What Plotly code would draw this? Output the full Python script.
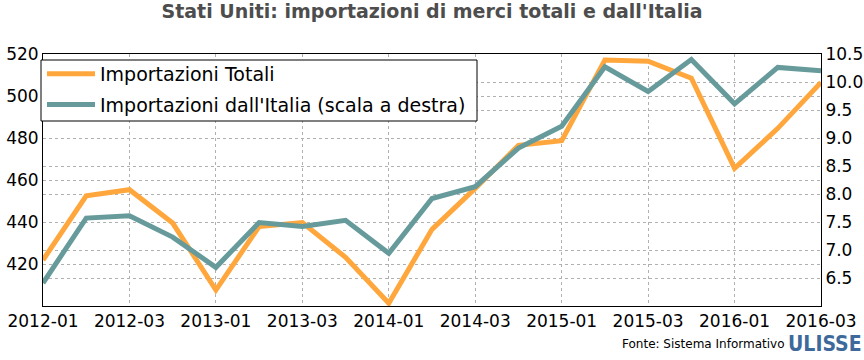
import plotly.graph_objects as go

quarters = ["2012-01", "2012-02", "2012-03", "2012-04",
            "2013-01", "2013-02", "2013-03", "2013-04",
            "2014-01", "2014-02", "2014-03", "2014-04",
            "2015-01", "2015-02", "2015-03", "2015-04",
            "2016-01", "2016-02", "2016-03"]
imp_totali = [421.9, 452.5, 455.4, 439.5, 407.6, 437.8, 439.7, 423.2, 401.3, 436.5,
              456.0, 476.5, 478.7, 517.1, 516.6, 508.5, 465.5, 484.6, 506.5]
imp_italia = [6.41, 7.57, 7.61, 7.23, 6.69, 7.49, 7.42, 7.53, 6.94, 7.92,
              8.13, 8.82, 9.21, 10.27, 9.83, 10.40, 9.61, 10.26, 10.20]
x_ticks = quarters[::2]
left_ticks = [420, 440, 460, 480, 500, 520]
right_ticks = [6.5, 7.0, 7.5, 8.0, 8.5, 9.0, 9.5, 10.0, 10.5]

ORANGE = "#ffa73d"
TEAL = "#679b9b"
FONT = "DejaVu Sans"
GRID = "#b0b0b0"

# plot area in pixels
L, R, T, B = 43, 821, 54, 306
PW, PH = R - L, B - T

def px(x):
    return (x - L) / PW

def py(y):
    return (B - y) / PH

fig = go.Figure()
fig.add_trace(go.Scatter(x=quarters, y=imp_totali, mode="lines", name="Importazioni Totali",
                         legendgroup="a", line=dict(color=ORANGE, width=5), yaxis="y"))
fig.add_trace(go.Scatter(x=quarters, y=imp_italia, mode="lines",
                         name="Importazioni dall'Italia (scala a destra)", legendgroup="b",
                         line=dict(color=TEAL, width=5), yaxis="y2"))

axis_common = dict(showgrid=True, gridcolor=GRID, griddash="dot", gridwidth=1,
                   showline=True, linecolor="black", linewidth=1, ticks="",
                   zeroline=False, automargin=False,
                   tickfont=dict(family=FONT, size=17, color="black"))

fig.update_layout(
    width=864, height=360,
    margin=dict(l=L, r=864 - R, t=T, b=360 - B),
    paper_bgcolor="white", plot_bgcolor="white",
    font=dict(family=FONT, size=17, color="black"),
    title=dict(text="<b>Stati Uniti: importazioni di merci totali e dall'Italia</b>",
               x=0.5, xanchor="center", y=0.968, yanchor="middle",
               font=dict(family=FONT, size=19, color="#4d4d4d")),
    showlegend=True,
    legend=dict(x=px(42), y=py(55), xanchor="left", yanchor="top",
                bgcolor="rgba(0,0,0,0)", borderwidth=0,
                font=dict(family=FONT, size=19, color="black"),
                tracegroupgap=3, itemwidth=48),
    xaxis=dict(type="category", range=[0, 18], tickmode="array", tickvals=x_ticks,
               ticktext=x_ticks, mirror=True, ticklabelstandoff=0, **axis_common),
    yaxis=dict(range=[400, 520], tickmode="array", tickvals=left_ticks,
               ticklabelstandoff=0, **axis_common),
    yaxis2=dict(range=[6.0, 10.5], tickmode="array", tickvals=right_ticks,
                tickformat=".1f", overlaying="y", side="right",
                ticklabelstandoff=0, **axis_common),
)

# legend frame
fig.add_shape(type="rect", xref="paper", yref="paper", layer="above",
              x0=px(41), x1=px(477), y0=py(121), y1=py(60),
              fillcolor="white", line=dict(color="black", width=1))

fig.add_annotation(text="Fonte: Sistema Informativo", xref="paper", yref="paper",
                   x=px(786), y=py(344), xanchor="right", yanchor="middle",
                   showarrow=False, font=dict(family=FONT, size=12, color="black"))
fig.add_annotation(text="<b>ULISSE</b>", xref="paper", yref="paper",
                   x=px(825), y=py(344), xanchor="center", yanchor="middle",
                   showarrow=False,
                   font=dict(family="Liberation Sans Narrow, DejaVu Sans Condensed, Liberation Sans",
                             size=21, color="#3d6a9a"))

fig.write_html("out.html", config={"displayModeBar": False},
               post_script="document.body.style.margin='0px';")
